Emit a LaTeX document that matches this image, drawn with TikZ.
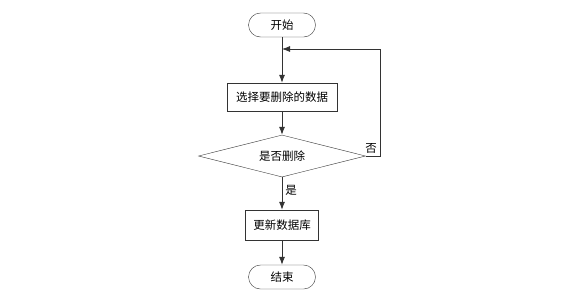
\documentclass[tikz,border=0pt]{standalone}
\usepackage{fontspec}
\newfontfamily\cjk{Noto Sans CJK SC}
\usetikzlibrary{arrows.meta,shapes.geometric}
\begin{document}
\begin{tikzpicture}[x=1pt,y=-1pt,
  every node/.style={font=\cjk\fontsize{11.5}{13}\selectfont},
  term/.style={draw=black!80,rounded corners=12pt,minimum width=67pt,minimum height=24pt,inner sep=0pt},
  proc/.style={draw=black!80,minimum height=28pt,inner sep=0pt},
  deci/.style={draw=black!80,diamond,aspect=4,minimum width=167pt,minimum height=42pt,inner sep=0pt},
  flow/.style={draw=black!80,line width=0.8pt,-{Latex[length=8pt,width=6pt]}},
  lbl/.style={inner sep=1pt}]
\useasboundingbox (0,0) rectangle (561,298);
\node[term] (start) at (282,25) {开始};
\node[proc,minimum width=110pt] (sel) at (282,97) {选择要删除的数据};
\node[deci] (dec) at (282,156) {是否删除};
\node[proc,minimum width=73pt,minimum height=30pt] (upd) at (282,225) {更新数据库};
\node[term] (end) at (282,277) {结束};
\coordinate (c1) at (380,156);
\coordinate (c2) at (380,49);
\coordinate (c3) at (282,49);
\draw[flow] (start) -- (sel);
\draw[flow] (sel) -- (dec);
\draw[flow] (dec) -- node[lbl,right,pos=0.4,xshift=2pt] {是} (upd);
\draw[flow] (upd) -- (end);
\draw[draw=black!80,line width=0.8pt] (dec.east) -- (c1) -- (c2);
\node[lbl,anchor=south east,xshift=-2pt,yshift=1pt] (no) at (c1) {否};
\draw[flow] (c2) -- (c3);
\end{tikzpicture}
\end{document}
